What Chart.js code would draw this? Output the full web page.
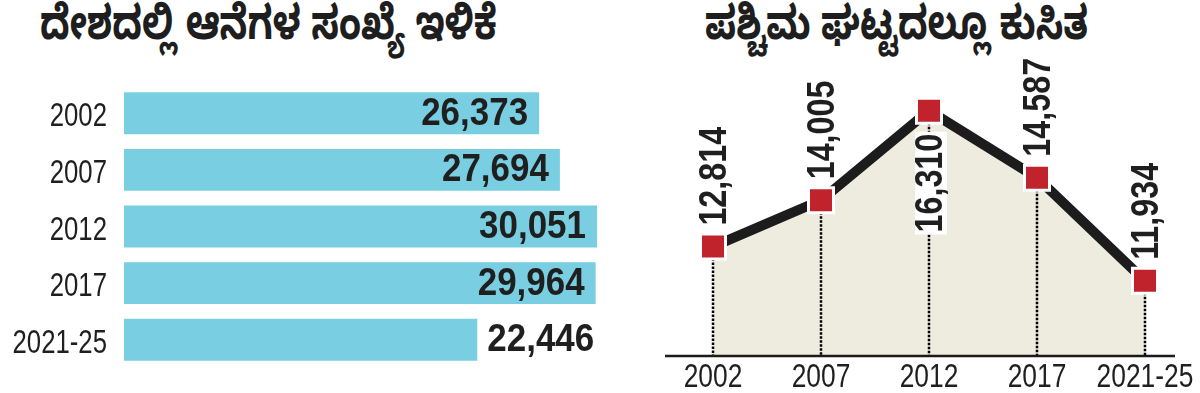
<!DOCTYPE html>
<html>
<head>
<meta charset="utf-8">
<script src="https://cdn.jsdelivr.net/npm/chart.js@4"></script>
<style>
  body { margin: 0; background: #fff; width: 1200px; height: 393px; position: relative; overflow: hidden; }
  .title { position: absolute; top: 1px; font: bold 47px "Noto Sans Kannada", "Noto Sans", sans-serif; color: #1e1e1e; white-space: nowrap; transform: scaleX(0.77); transform-origin: left top; }
  #leftBox { position: absolute; left: 0; top: 0; width: 622px; height: 393px; }
  #rightBox { position: absolute; left: 640px; top: 0; width: 560px; height: 393px; }
</style>
</head>
<body>
<div class="title" id="leftTitle" style="left:40px"></div>
<div class="title" id="rightTitle" style="left:705px"></div>
<div id="leftBox"><canvas id="chartIndia"></canvas></div>
<div id="rightBox"><canvas id="chartGhats"></canvas></div>
<script>
var tituloEsq = 'ದೇಶದಲ್ಲಿ ಆನೆಗಳ ಸಂಖ್ಯೆ ಇಳಿಕೆ';
var tituloDir = 'ಪಶ್ಚಿಮ ಘಟ್ಟದಲ್ಲೂ ಕುಸಿತ';
var anos = ['2002', '2007', '2012', '2017', '2021-25'];
var elefantesIndia = [26373, 27694, 30051, 29964, 22446];
var elefantesGhats = [12814, 14005, 16310, 14587, 11934];

document.getElementById('leftTitle').textContent = tituloEsq;
document.getElementById('rightTitle').textContent = tituloDir;

// fonte "estreita": Liberation Sans comprimida na horizontal
var fonteValor = 'bold 38px "Liberation Sans", Arial, sans-serif';
var fonteEixo = '33px "Liberation Sans", Arial, sans-serif';
var corTexto = '#1f1f1f';

function fmt(v) { return v.toLocaleString('en-US'); }

function textoEstreito(ctx, txt, x, y, escala, rot) {
    ctx.save();
    ctx.translate(x, y);
    if (rot) ctx.rotate(rot);
    ctx.scale(escala, 1);
    ctx.fillText(txt, 0, 0);
    ctx.restore();
}

// rótulos das barras e das categorias
var rotulosBarras = {
    id: 'rotulosBarras',
    afterDatasetsDraw: function (chart) {
        var ctx = chart.ctx;
        var meta = chart.getDatasetMeta(0);
        var dados = chart.data.datasets[0].data;
        var menor = Math.min.apply(null, dados);
        ctx.save();
        ctx.font = fonteValor;
        ctx.fillStyle = corTexto;
        ctx.textBaseline = 'middle';
        meta.data.forEach(function (bar, i) {
            if (dados[i] === menor) {
                ctx.textAlign = 'left';
                textoEstreito(ctx, fmt(dados[i]), bar.x + 10, bar.y + 1, 0.92);
            } else {
                ctx.textAlign = 'right';
                textoEstreito(ctx, fmt(dados[i]), bar.x - 11, bar.y + 1, 0.92);
            }
        });
        var eixoY = chart.scales.y;
        ctx.font = fonteEixo;
        ctx.textAlign = 'right';
        eixoY.ticks.forEach(function (t, i) {
            textoEstreito(ctx, eixoY.getLabelForValue(t.value), eixoY.right - 17, eixoY.getPixelForTick(i) + 4, 0.78);
        });
        ctx.restore();
    }
};

var capacidadeIndia = document.getElementById('chartIndia').getContext('2d');
var chart1 = new Chart(capacidadeIndia, {
    type: 'bar',
    data: {
        labels: anos,
        datasets: [{
            data: elefantesIndia,
            backgroundColor: '#79cfe1',
            borderWidth: 0,
            categoryPercentage: 1,
            barPercentage: 0.74
        }]
    },
    options: {
        indexAxis: 'y',
        responsive: true,
        maintainAspectRatio: false,
        animation: false,
        events: [],
        layout: { padding: { top: 85, bottom: 25, left: 0, right: 0 } },
        plugins: { legend: { display: false }, tooltip: { enabled: false } },
        scales: {
            x: { display: false, min: 0, max: 31640 },
            y: {
                grid: { display: false, drawTicks: false },
                border: { display: false },
                ticks: { display: false },
                afterFit: function (axis) { axis.width = 124; }
            }
        }
    },
    plugins: [rotulosBarras]
});

// linhas pontilhadas (depois do preenchimento), eixo e rótulos girados
var extrasLinha = {
    id: 'extrasLinha',
    beforeDatasetDraw: function (chart) {
        var ctx = chart.ctx;
        var area = chart.chartArea;
        var meta = chart.getDatasetMeta(0);
        ctx.save();
        ctx.strokeStyle = '#000';
        ctx.lineWidth = 2.5;
        ctx.setLineDash([2.5, 1.5]);
        meta.data.forEach(function (p) {
            var x = Math.round(p.x);
            ctx.beginPath();
            ctx.moveTo(x, p.y);
            ctx.lineTo(x, area.bottom);
            ctx.stroke();
        });
        ctx.setLineDash([]);
        ctx.lineWidth = 2.5;
        ctx.strokeStyle = '#1a1a1a';
        ctx.beginPath();
        ctx.moveTo(area.left - 48, area.bottom);
        ctx.lineTo(area.right + 30, area.bottom);
        ctx.stroke();
        ctx.restore();
    },
    afterDatasetsDraw: function (chart) {
        var ctx = chart.ctx;
        var meta = chart.getDatasetMeta(0);
        var dados = chart.data.datasets[0].data;
        var maior = Math.max.apply(null, dados);
        var esc = 0.85;
        ctx.save();
        ctx.font = fonteValor;
        ctx.textBaseline = 'middle';
        ctx.fillStyle = corTexto;
        meta.data.forEach(function (p, i) {
            var txt = fmt(dados[i]);
            if (dados[i] === maior) {
                var w = ctx.measureText(txt).width * esc;
                ctx.save();
                ctx.fillStyle = '#fff';
                ctx.fillRect(p.x - 14, p.y + 21, 32, w + 4);
                ctx.restore();
                ctx.textAlign = 'right';
                textoEstreito(ctx, txt, p.x + 3, p.y + 23, esc, -Math.PI / 2);
            } else {
                ctx.textAlign = 'left';
                textoEstreito(ctx, txt, p.x + 3, p.y - 21, esc, -Math.PI / 2);
            }
        });
        var eixoX = chart.scales.x;
        ctx.font = fonteEixo;
        ctx.textAlign = 'center';
        eixoX.ticks.forEach(function (t, i) {
            textoEstreito(ctx, eixoX.getLabelForValue(t.value), eixoX.getPixelForTick(i), eixoX.top + 22, 0.8);
        });
        ctx.restore();
    }
};

var desempenhoGhats = document.getElementById('chartGhats').getContext('2d');
var chart2 = new Chart(desempenhoGhats, {
    type: 'line',
    data: {
        labels: anos,
        datasets: [{
            data: elefantesGhats,
            borderColor: '#1c1c1c',
            borderWidth: 10,
            backgroundColor: '#eeebdf',
            fill: 'start',
            tension: 0,
            pointStyle: 'rect',
            pointRadius: 17.7,
            pointBackgroundColor: '#c1232c',
            pointBorderColor: '#fff',
            pointBorderWidth: 3
        }]
    },
    options: {
        responsive: true,
        maintainAspectRatio: false,
        animation: false,
        events: [],
        layout: { padding: { top: 45, bottom: 0, left: 73, right: 55 } },
        plugins: { legend: { display: false }, tooltip: { enabled: false } },
        scales: {
            x: {
                offset: false,
                grid: { display: false, drawTicks: false },
                border: { display: false },
                ticks: { display: false, autoSkip: false },
                afterFit: function (axis) { axis.height = 37; }
            },
            y: { display: false, min: 10000, max: 18000 }
        }
    },
    plugins: [extrasLinha]
});
</script>
</body>
</html>
